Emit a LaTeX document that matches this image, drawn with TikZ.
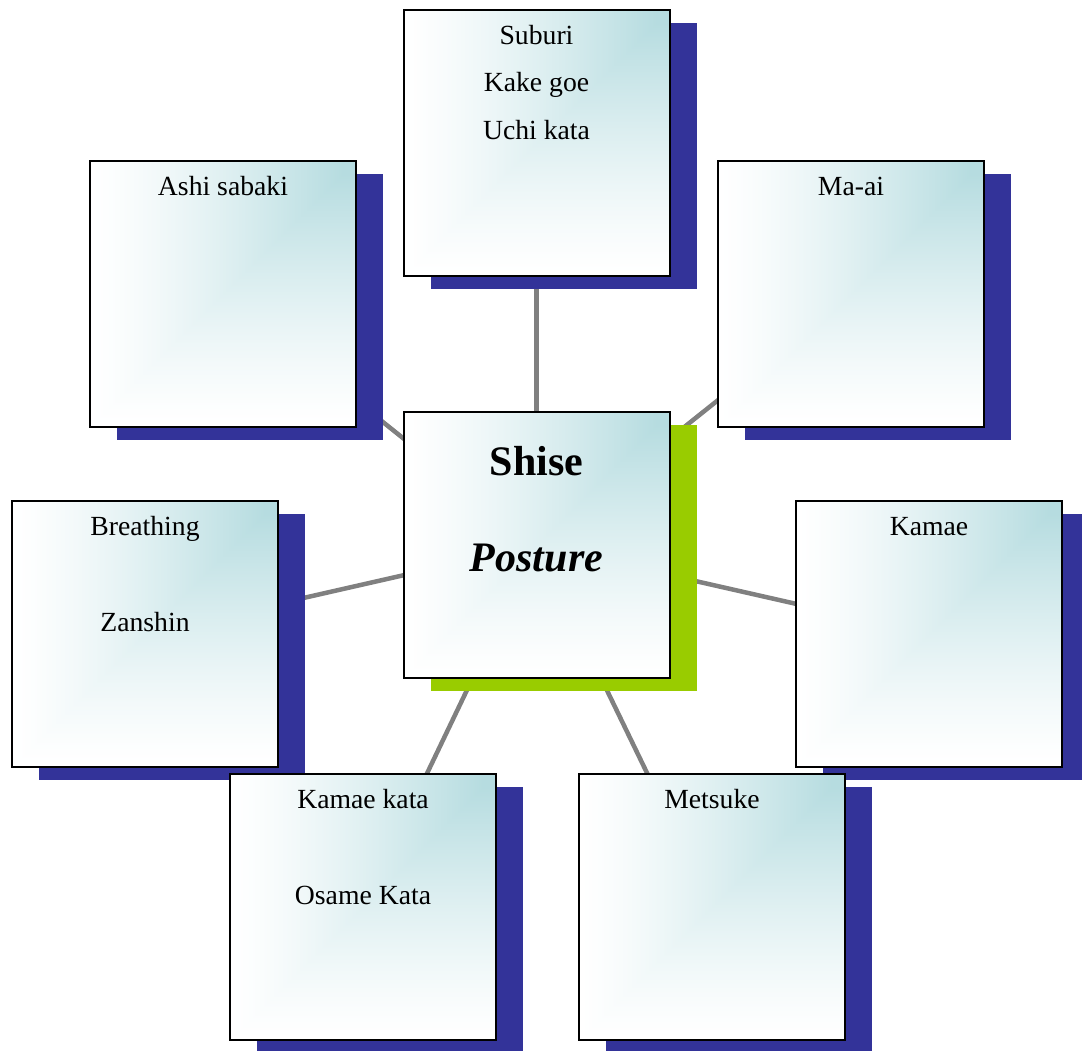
\documentclass[tikz,border=0pt]{standalone}
\usepackage{fontspec}
\setmainfont{Liberation Serif}
\usetikzlibrary{shadows}
\definecolor{navyshadow}{HTML}{333399}
\definecolor{greenshadow}{HTML}{99CC00}
\definecolor{conngray}{HTML}{808080}
\pgfdeclarefunctionalshading{cornerteal}{\pgfpoint{-50bp}{-50bp}}{\pgfpoint{50bp}{50bp}}{}{
  25 exch sub exch 25 exch sub
  2 copy lt {exch} if pop
  50 div
  1.0 exch sub 0.95 div
  dup 1 gt {pop 1} if
  dup 0 lt {pop 0} if
  1.3 exp
  dup dup
  0.286 mul 1 exch sub
  3 1 roll
  0.137 mul 1 exch sub
  exch
  0.122 mul 1 exch sub
}
\pgfdeclarelayer{bg}
\pgfsetlayers{bg,main}
\begin{document}
\begin{tikzpicture}[x=1pt,y=-1pt,
  box/.style={draw=black, line width=2pt, minimum size=266pt, inner sep=0pt,
    shade, shading=cornerteal,
    general shadow={fill=#1, shadow xshift=27pt, shadow yshift=-13pt}},
  box/.default=navyshadow,
  lbl/.style={anchor=base, inner sep=0pt, font=\fontsize{27.7}{33}\selectfont},
  biglbl/.style={anchor=base, inner sep=0pt, font=\fontsize{42}{50}\selectfont\bfseries},
  conn/.style={draw=conngray, line width=4.5pt}]
\useasboundingbox (0,0) rectangle (1082,1050);
% boxes
\node[box] (Su) at (536.5,143) {};
\node[box] (As) at (223,294) {};
\node[box] (Ma) at (851,294) {};
\node[box=greenshadow] (C) at (536.5,545) {};
\node[box] (Ka) at (929,634) {};
\node[box] (Me) at (712,907) {};
\node[box] (Br) at (145,634) {};
\node[box] (KK) at (363,907) {};
% connectors
\begin{pgfonlayer}{bg}
\draw[conn] (C.center) -- (Su.center);
\draw[conn] (C.center) -- (As.center);
\draw[conn] (C.center) -- (Ma.center);
\draw[conn] (C.center) -- (Br.center);
\draw[conn] (C.center) -- (Ka.center);
\draw[conn] (C.center) -- (KK.center);
\draw[conn] (C.center) -- (Me.center);
\end{pgfonlayer}
% texts
\node[lbl] (Su1) at (536.5,44) {Suburi};
\node[lbl] (Su2) at (536.5,91.5) {Kake goe};
\node[lbl] (Su3) at (536.5,139) {Uchi kata};
\node[lbl] (As1) at (223,195) {Ashi sabaki};
\node[lbl] (Ma1) at (851,195) {Ma-ai};
\node[biglbl] (C1) at (536.5,475) {Shise};
\node[biglbl] (C2) at (536.5,571) {\itshape Posture};
\node[lbl] (Br1) at (145,535) {Breathing};
\node[lbl] (Br2) at (145,631) {Zanshin};
\node[lbl] (Ka1) at (929,535) {Kamae};
\node[lbl] (KK1) at (363,808) {Kamae kata};
\node[lbl] (KK2) at (363,904) {Osame Kata};
\node[lbl] (Me1) at (712,808) {Metsuke};
\end{tikzpicture}
\end{document}
